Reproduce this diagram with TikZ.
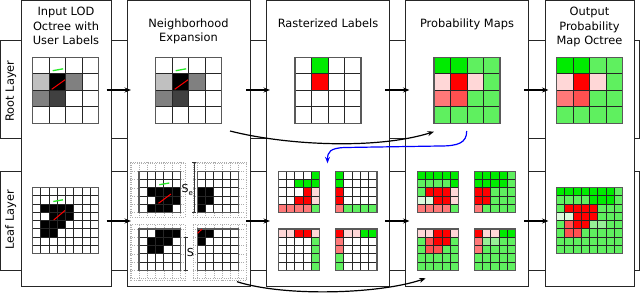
\documentclass[tikz,border=0pt]{standalone}
\usepackage{fontspec}
\setmainfont{DejaVu Sans}
\usetikzlibrary{arrows.meta}
\definecolor{cW}{RGB}{255,255,255}
\definecolor{cK}{RGB}{0,0,0}
\definecolor{cLG}{RGB}{192,192,192}
\definecolor{cM}{RGB}{128,128,128}
\definecolor{cD}{RGB}{64,64,64}
\definecolor{cG}{RGB}{0,235,0}
\definecolor{cg}{RGB}{95,240,95}
\definecolor{cgg}{RGB}{150,240,150}
\definecolor{clg}{RGB}{220,250,220}
\definecolor{cR}{RGB}{255,0,0}
\definecolor{cP}{RGB}{255,215,215}
\definecolor{cS}{RGB}{255,120,120}
\definecolor{cSS}{RGB}{255,80,80}
\definecolor{lgreen}{RGB}{40,235,40}
\definecolor{lblue}{RGB}{0,0,255}
\newcommand\cgrid[4]{%
  \foreach \rw [count=\ii from 0] in {#4} {%
    \foreach \cc [count=\jj from 0] in \rw {%
      \fill[fill=\cc] ({#1+\jj*#3},{#2+\ii*#3}) rectangle ++(#3,#3);
    }%
  }%
}
\newcommand\glines[5]{%
  \foreach \kk in {1,...,#4} \draw[gl] ({#1+\kk*#3-#3},#2) -- ++(0,{#5*#3});
  \foreach \kk in {1,...,#5} \draw[gl] (#1,{#2+\kk*#3-#3}) -- ++({#4*#3},0);
  \draw[gframe] (#1,#2) rectangle ++({#4*#3},{#5*#3});
}
\newcommand\dotreg[6]{%
  \begin{scope}
    \clip ({#1-#3},{#2-#4}) rectangle ({#1+41.25+#5},{#2+41.25+#6});
    \foreach \kk in {0,...,7} {
      \draw[dotl] ({#1+\kk*8.25-8.25},{#2-#4}) -- ++(0,{41.25+#4+#6});
      \draw[dotl] ({#1-#3},{#2+\kk*8.25-8.25}) -- ++({41.25+#3+#5},0);
    }
  \end{scope}
  \draw[dotl] ({#1-#3},{#2-#4}) rectangle ({#1+41.25+#5},{#2+41.25+#6});
}
\begin{document}
\begin{tikzpicture}[x=1pt,y=-1pt,
  every node/.style={inner sep=0pt,outer sep=0pt},
  band/.style={draw=black!85,line width=0.9pt},
  panel/.style={draw=black!85,fill=white,line width=0.9pt},
  head/.style={anchor=north,align=center,font=\fontsize{11.4}{14.5}\selectfont},
  layerlbl/.style={rotate=90,font=\fontsize{11.4}{14}\selectfont},
  gl/.style={draw=black!85,line width=1pt},
  gframe/.style={draw=black!65,line width=1.2pt},
  dotl/.style={draw=black!32,line width=0.5pt,dash pattern=on 0.8pt off 1.4pt},
  conn/.style={draw=black,line width=1.2pt,-{Stealth[length=6.5pt,width=5pt]}},
  bconn/.style={draw=lblue,line width=1.2pt,-{Stealth[length=6.5pt,width=5pt]}},
  brk/.style={draw=black!80,line width=0.8pt,{Bar[width=4pt]}-{Bar[width=4pt]}},
  slbl/.style={font=\fontsize{11}{12}\selectfont}]
\useasboundingbox (0,0) rectangle (640,295);
% layer bands
\node[band,minimum width=638.5pt,minimum height=97.6pt] (rootband) at (319.75,89.5) {};
\node[band,minimum width=638.5pt,minimum height=98.3pt] (leafband) at (319.75,220.85) {};
\node[layerlbl] (rootlbl) at (10.8,91) {Root Layer};
\node[layerlbl] (leaflbl) at (10.8,219.5) {Leaf Layer};
% panels
\node[panel,minimum width=90pt,minimum height=286pt] (p1) at (66,143.7) {};
\node[panel,minimum width=123pt,minimum height=286pt] (p2) at (188.5,143.7) {};
\node[panel,minimum width=122.6pt,minimum height=286pt] (p3) at (328,143.7) {};
\node[panel,minimum width=122.6pt,minimum height=286pt] (p4) at (467,143.7) {};
\node[panel,minimum width=89pt,minimum height=286pt] (p5) at (589.5,143.7) {};
% headings
\node[head] (h1) at (66,7.5) {Input LOD\\Octree with\\User Labels};
\node[head] (h2) at (188.5,18.7) {Neighborhood\\Expansion};
\node[head] (h3) at (328,18.7) {Rasterized Labels};
\node[head] (h4) at (467,18.7) {Probability Maps};
\node[head] (h5) at (589.5,7.5) {Output\\Probability\\Map Octree};
% ---------- root grids ----------
\cgrid{32.7}{57.3}{16.5}{{cW,cW,cW,cW},{cLG,cK,cM,cW},{cM,cD,cW,cW},{cW,cW,cW,cW}}
\glines{32.7}{57.3}{16.5}{4}{4}
\cgrid{155.7}{57.3}{16.5}{{cW,cW,cW,cW},{cLG,cK,cM,cW},{cM,cD,cW,cW},{cW,cW,cW,cW}}
\glines{155.7}{57.3}{16.5}{4}{4}
\cgrid{295}{57.3}{16.5}{{cW,cG,cW,cW},{cW,cR,cW,cW},{cW,cW,cW,cW},{cW,cW,cW,cW}}
\glines{295}{57.3}{16.5}{4}{4}
\cgrid{434}{57.3}{16.5}{{cG,cG,cg,cg},{cP,cR,cP,cg},{cS,cSS,cg,cg},{cg,cg,cg,cg}}
\glines{434}{57.3}{16.5}{4}{4}
\cgrid{556.7}{57.3}{16.5}{{cG,cG,cg,cg},{cP,cR,cP,cg},{cS,cSS,cg,cg},{cg,cg,cg,cg}}
\glines{556.7}{57.3}{16.5}{4}{4}
% user strokes (root)
\draw[lgreen,line width=1.3pt] (52.7,70.7) -- (63.2,68.8);
\draw[cR,line width=1pt] (51.7,89.3) -- (65,79.8);
\draw[lgreen,line width=1.3pt] (175.7,70.7) -- (186.2,68.8);
\draw[cR,line width=1pt] (174.7,89.3) -- (188,79.8);
% ---------- leaf: input ----------
\cgrid{32.7}{187.7}{8.25}{{cW,cW,cW,cW,cW,cW,cW,cW},{cW,cW,cW,cW,cW,cW,cW,cW},{cW,cK,cK,cK,cK,cW,cW,cW},{cW,cW,cK,cK,cK,cW,cW,cW},{cW,cK,cK,cK,cW,cW,cW,cW},{cW,cK,cK,cW,cW,cW,cW,cW},{cW,cW,cW,cW,cW,cW,cW,cW},{cW,cW,cW,cW,cW,cW,cW,cW}}
\glines{32.7}{187.7}{8.25}{8}{8}
\draw[lgreen,line width=1.3pt] (53.3,201.5) -- (63,199.8);
\draw[cR,line width=1pt] (53.7,220) -- (65,210.5);
% ---------- leaf: neighborhood expansion ----------
\dotreg{139}{171.3}{9}{9}{4.5}{4.5}
\dotreg{197.3}{171.3}{4.5}{9}{8}{4.5}
\dotreg{139}{229}{9}{4.5}{4.5}{10}
\dotreg{197.3}{229}{4.5}{4.5}{8}{10}
\cgrid{139}{171.3}{8.25}{{cW,cW,cW,cW,cW},{cW,cW,cW,cW,cW},{cW,cK,cK,cK,cK},{cW,cW,cK,cK,cK},{cW,cK,cK,cK,cW}}
\glines{139}{171.3}{8.25}{5}{5}
\cgrid{197.3}{171.3}{8.25}{{cW,cW,cW,cW,cW},{cW,cW,cW,cW,cW},{cK,cK,cW,cW,cW},{cK,cK,cW,cW,cW},{cK,cW,cW,cW,cW}}
\glines{197.3}{171.3}{8.25}{5}{5}
\cgrid{139}{229}{8.25}{{cW,cW,cK,cK,cK},{cW,cK,cK,cK,cW},{cW,cK,cK,cW,cW},{cW,cW,cW,cW,cW},{cW,cW,cW,cW,cW}}
\glines{139}{229}{8.25}{5}{5}
\cgrid{197.3}{229}{8.25}{{cK,cK,cW,cW,cW},{cK,cW,cW,cW,cW},{cW,cW,cW,cW,cW},{cW,cW,cW,cW,cW},{cW,cW,cW,cW,cW}}
\glines{197.3}{229}{8.25}{5}{5}
\draw[lgreen,line width=1.3pt] (159.3,184.7) -- (169.3,183);
\draw[cR,line width=1pt] (158.5,203.3) -- (171,194);
\draw[cR,line width=1pt] (197.6,233.3) -- (201.8,229.3);
% brackets
\coordinate (set) at (194,162.3);
\coordinate (seb) at (194,212.6);
\draw[brk] (set) -- (seb);
\node[slbl,anchor=east] (selbl) at (193,190) {S\raisebox{-2.5pt}{\fontsize{7}{7}\selectfont e}};
\coordinate (sst) at (185.5,237.3);
\coordinate (ssb) at (185.5,270.3);
\draw[brk] (sst) -- (ssb);
\node[slbl,anchor=west] (slbl) at (186.8,252.5) {S};
% ---------- leaf: rasterized labels ----------
\cgrid{278.3}{171.3}{8.25}{{cW,cW,cW,cW,cG},{cW,cW,cG,cG,cG},{cW,cW,cW,cR,cP},{cW,cW,cR,cR,cP},{cS,cS,cS,cS,cg}}
\glines{278.3}{171.3}{8.25}{5}{5}
\cgrid{335.7}{171.3}{8.25}{{cG,cW,cW,cW,cW},{cG,cW,cW,cW,cW},{cR,cW,cW,cW,cW},{cR,cW,cW,cW,cW},{cS,cg,cg,cg,cg}}
\glines{335.7}{171.3}{8.25}{5}{5}
\cgrid{278.3}{229}{8.25}{{cP,cP,cR,cR,cP},{cW,cW,cW,cW,cg},{cW,cW,cW,cW,cg},{cW,cW,cW,cW,cg},{cW,cW,cW,cW,cg}}
\glines{278.3}{229}{8.25}{5}{5}
\cgrid{335.7}{229}{8.25}{{cR,cP,cP,cG,cG},{cS,cW,cW,cW,cW},{cS,cW,cW,cW,cW},{cg,cW,cW,cW,cW},{cg,cW,cW,cW,cW}}
\glines{335.7}{229}{8.25}{5}{5}
% ---------- leaf: probability maps ----------
\cgrid{417.3}{171.3}{8.25}{{cG,cG,cG,cG,cG},{cg,cg,cg,cg,cG},{cg,cR,cR,cR,cP},{clg,clg,cR,cR,cP},{cS,cS,cS,cS,cg}}
\glines{417.3}{171.3}{8.25}{5}{5}
\cgrid{474.3}{171.3}{8.25}{{cG,cG,cG,cG,cg},{cG,cG,cG,cG,cg},{cR,cR,cg,cg,cg},{cR,cR,cg,cg,cg},{cS,cg,cg,cg,cg}}
\glines{474.3}{171.3}{8.25}{5}{5}
\cgrid{417.3}{229}{8.25}{{cP,cP,cR,cR,cP},{cg,cSS,cR,cR,cg},{cg,cSS,cSS,cg,cg},{cg,cg,cg,cg,cg},{cg,cg,cg,cg,cg}}
\glines{417.3}{229}{8.25}{5}{5}
\cgrid{474.3}{229}{8.25}{{cR,cP,cP,cG,cG},{cS,cgg,cgg,cg,cg},{cS,cg,cg,cg,cg},{cg,cg,cg,cg,cg},{cg,cg,cg,cg,cg}}
\glines{474.3}{229}{8.25}{5}{5}
% ---------- leaf: output ----------
\cgrid{556.7}{187.7}{8.25}{{cG,cG,cG,cG,cG,cG,cG,cg},{cg,cg,cg,cg,cG,cG,cG,cg},{cg,cR,cR,cR,cR,cg,cg,cg},{clg,clg,cR,cR,cR,cg,cg,cg},{cg,cSS,cR,cR,cgg,cgg,cg,cg},{cg,cSS,cSS,cg,cg,cg,cg,cg},{cg,cg,cg,cg,cg,cg,cg,cg},{cg,cg,cg,cg,cg,cg,cg,cg}}
\glines{556.7}{187.7}{8.25}{8}{8}
% ---------- connectors ----------
\coordinate (ra1) at (106.7,90); \coordinate (rb1) at (131,90);
\coordinate (ra2) at (246,90);   \coordinate (rb2) at (270,90);
\coordinate (ra3) at (385,90);   \coordinate (rb3) at (409.5,90);
\coordinate (ra4) at (524.3,90); \coordinate (rb4) at (548.5,90);
\coordinate (la1) at (106.7,221); \coordinate (lb1) at (131,221);
\coordinate (la2) at (246,221);   \coordinate (lb2) at (270,221);
\coordinate (la3) at (385,221);   \coordinate (lb3) at (409.5,221);
\coordinate (la4) at (524.3,221); \coordinate (lb4) at (548.5,221);
\draw[conn] (ra1) -- (rb1);
\draw[conn] (ra2) -- (rb2);
\draw[conn] (ra3) -- (rb3);
\draw[conn] (ra4) -- (rb4);
\draw[conn] (la1) -- (lb1);
\draw[conn] (la2) -- (lb2);
\draw[conn] (la3) -- (lb3);
\draw[conn] (la4) -- (lb4);
\coordinate (c1s) at (230,131); \coordinate (c1e) at (434,131.7);
\draw[conn] (c1s) .. controls (285,145) and (375,150) .. (c1e);
\coordinate (c2s) at (237,281.7); \coordinate (c2e) at (425.7,278.3);
\draw[conn] (c2s) .. controls (285,297) and (380,294) .. (c2e);
\coordinate (bs) at (466.7,131); \coordinate (bm1) at (440,146); \coordinate (bm2) at (345,147.5); \coordinate (be) at (327.5,163.3);
\draw[bconn] (bs) .. controls (466.7,143) and (458,146) .. (bm1) -- (bm2) .. controls (330,148) and (327.5,152) .. (be);
\end{tikzpicture}
\end{document}
